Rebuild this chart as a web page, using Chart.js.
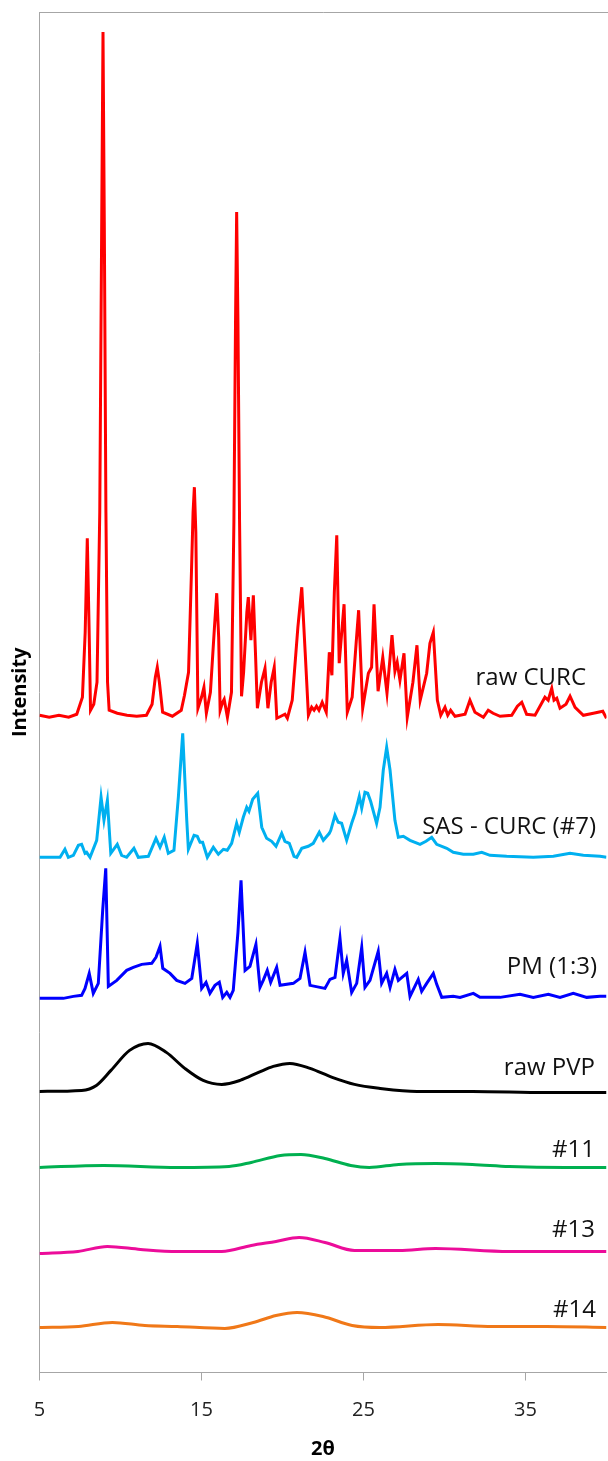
<!DOCTYPE html>
<html>
<head>
<meta charset="utf-8">
<script src="https://cdn.jsdelivr.net/npm/chart.js@4.4.0/dist/chart.umd.min.js"></script>
<style>
  html, body { margin: 0; padding: 0; background: #fff; }
</style>
</head>
<body>
<canvas id="xrd" width="608" height="1461"></canvas>
<script>
// 2θ ticks on the bottom axis
const X_TICKS = [5, 15, 25, 35];

const SERIES_NAMES = ['raw CURC', 'SAS - CURC (#7)', 'PM (1:3)', 'raw PVP', '#11', '#13', '#14'];

// [2θ, intensity] (patterns are stacked, offset included)
const rawCurc = [[5.0,657],[5.6,655],[6.2,657],[6.8,655],[7.3,658],[7.65,675],[7.82,740],[7.95,834],[8.06,745],[8.15,662],
  [8.35,668],[8.55,690],[8.72,860],[8.84,1150],[8.92,1340],[9.0,1150],[9.1,860],[9.2,690],[9.3,662],[9.8,659],
  [10.4,657],[11.0,656],[11.6,657],[11.95,668],[12.15,695],[12.27,705],[12.4,690],[12.6,660],[13.2,656],[13.75,662],
  [13.95,677],[14.2,700],[14.38,800],[14.48,860],[14.56,885],[14.65,840],[14.78,664],[15.0,675],[15.15,685],[15.3,659],
  [15.55,680],[15.8,745],[15.94,779],[16.06,735],[16.15,662],[16.3,670],[16.4,673],[16.6,655],[16.85,680],[17.0,850],
  [17.1,1050],[17.17,1160],[17.25,1050],[17.35,850],[17.47,676],[17.6,700],[17.8,760],[17.89,775],[18.05,732],[18.2,777],
  [18.33,720],[18.45,664],[18.7,690],[18.92,704],[19.1,664],[19.3,690],[19.49,705],[19.65,654],[19.9,656],[20.15,658],
  [20.3,654],[20.6,672],[20.95,745],[21.19,785],[21.4,720],[21.6,657],[21.8,665],[21.95,662],[22.1,666],[22.25,662],
  [22.45,670],[22.7,660],[22.89,720],[23.05,697],[23.2,780],[23.35,837],[23.5,709],[23.8,768],[24.0,660],[24.3,675],
  [24.55,730],[24.7,762],[24.95,664],[25.3,699],[25.5,705],[25.65,768],[25.9,681],[26.19,715],[26.45,679],[26.76,737],
  [26.94,701],[27.08,710],[27.25,692],[27.5,719],[27.7,655],[28.05,690],[28.3,727],[28.5,672],[28.9,699],[29.1,729],
  [29.31,740],[29.56,672],[29.77,657],[30.03,665],[30.2,657],[30.38,662],[30.65,656],[31.27,658],[31.57,672],[31.88,660],
  [32.4,655],[32.7,662],[33.0,659],[33.43,656],[34.15,657],[34.5,666],[34.77,670],[35.07,658],[35.59,657],[36.2,675],
  [36.4,672],[36.62,684],[36.76,672],[36.93,674],[37.13,664],[37.5,668],[37.75,676],[38.06,665],[38.57,657],[39.19,659],
  [39.77,661],[40.0,654]];

const sasCurc = [[5.0,515],[6.27,515],[6.57,523],[6.78,515],[7.09,517],[7.40,527],[7.60,528],[7.81,519],[7.91,520],[8.12,515],
  [8.53,532],[8.80,575],[8.98,552],[9.19,572],[9.40,519],[9.80,528],[10.07,517],[10.38,515],[10.83,524],[11.10,515],
  [11.72,516],[12.19,534],[12.44,525],[12.70,535],[12.95,519],[13.30,522],[13.57,575],[13.84,639],[14.09,552],[14.19,523],
  [14.54,537],[14.74,536],[14.91,530],[15.07,530],[15.36,515],[15.73,525],[16.04,518],[16.35,523],[16.59,522],[16.86,529],
  [17.17,549],[17.33,540],[17.58,555],[17.79,565],[17.93,561],[18.16,573],[18.47,579],[18.72,545],[19.02,534],[19.33,531],
  [19.60,526],[19.95,539],[20.15,531],[20.42,529],[20.71,516],[20.88,515],[21.19,524],[21.59,526],[21.90,529],[22.27,540],
  [22.52,532],[22.89,539],[22.98,542],[23.24,557],[23.44,550],[23.65,549],[23.96,532],[24.27,549],[24.48,559],[24.74,576],
  [24.89,564],[25.09,580],[25.26,579],[25.44,571],[25.81,549],[26.02,565],[26.22,602],[26.43,625],[26.64,602],[26.94,552],
  [27.15,535],[27.46,536],[27.87,532],[28.49,528],[28.86,531],[29.21,535],[29.52,528],[30.14,524],[30.54,520],[31.16,518],
  [31.78,518],[32.30,520],[32.81,517],[33.84,516],[35.48,515],[36.72,516],[37.75,519],[38.57,517],[39.60,516],[40.0,515]];

const pm13 = [[5.0,374],[6.47,374],[7.09,376],[7.60,377],[7.81,384],[8.07,399],[8.32,379],[8.63,389],[8.90,462],[9.09,504],
  [9.25,386],[9.77,392],[10.38,402],[10.79,405],[11.31,408],[11.93,409],[12.19,415],[12.44,426],[12.61,404],[13.06,399],
  [13.47,392],[13.98,389],[14.40,394],[14.74,429],[15.01,384],[15.28,390],[15.52,379],[15.83,387],[16.10,390],[16.31,375],
  [16.56,380],[16.76,375],[16.96,382],[17.25,440],[17.44,492],[17.69,402],[17.99,406],[18.36,428],[18.61,385],[18.81,392],
  [19.06,402],[19.27,390],[19.64,405],[19.85,387],[20.67,389],[21.08,394],[21.39,420],[21.70,387],[22.62,384],[22.93,393],
  [23.24,395],[23.55,434],[23.75,399],[23.96,412],[24.27,380],[24.58,389],[24.89,425],[25.09,385],[25.40,392],[25.91,421],
  [26.12,389],[26.43,399],[26.64,385],[26.94,403],[27.15,392],[27.67,399],[27.87,376],[28.38,393],[28.59,381],[28.90,389],
  [29.31,399],[29.52,388],[29.83,375],[30.54,376],[30.96,375],[31.78,379],[32.19,375],[33.43,375],[34.66,378],[35.48,375],
  [36.41,378],[37.13,375],[37.95,379],[38.78,375],[39.60,376],[40.0,376]];

const rawPvp = [[5.0,281],[7.6,282],[8.51,287],[9.41,302],[10.56,322],[11.70,329],[12.83,320],[13.97,304],[15.10,292],[16.25,288],
  [17.38,292],[18.52,300],[19.43,306],[20.46,309],[21.70,304],[23.07,295],[24.44,288],[26.03,284],[28.30,281],[31.72,281],
  [36.27,280],[40.0,280]];

const s11 = [[5.0,205],[8.96,207],[13.51,205],[16.70,206],[18.07,210],[19.88,217],[21.14,218],[22.62,214],[24.21,207],[25.35,205],
  [27.17,208],[29.44,209],[31.72,208],[34.0,206],[37.41,205],[40.0,205]];

const s13 = [[5.0,119],[7.37,121],[9.19,126],[11.24,123],[13.51,121],[16.25,121],[18.07,127],[19.6,131],[21.02,135],[22.62,130],
  [24.44,122],[27.2,122],[29.44,124],[34.0,121],[37.5,121],[40.0,121]];

const s14 = [[5.0,45],[7.4,46],[9.5,50],[11.5,47],[13.5,46],[16.44,44],[18.2,50],[19.6,57],[20.9,60],[22.5,56],
  [24.3,47],[26.0,45],[29.6,48],[33.0,46],[36.3,46],[40.0,45]];

const SERIES = [rawCurc, sasCurc, pm13, rawPvp, s11, s13, s14];
const COLORS = ['#ff0000', '#00b0f0', '#0000ff', '#000000', '#00b050', '#ec0c9a', '#f07818'];
const SMOOTH = [false, false, false, true, true, true, true];

// label spots: right end x, middle y (px)
const LABEL_SPOTS = [[586, 678], [596, 827], [597, 967], [595, 1068], [595, 1150], [595, 1230], [596, 1310]];

const etiquetas = {
    id: 'etiquetas',
    afterDatasetsDraw(chart) {
        const ctx = chart.ctx;
        ctx.save();
        ctx.font = '24px "Open Sans"';
        ctx.fillStyle = '#111';
        ctx.textAlign = 'right';
        ctx.textBaseline = 'middle';
        SERIES_NAMES.forEach((nome, i) => {
            ctx.fillText(nome, LABEL_SPOTS[i][0], LABEL_SPOTS[i][1]);
        });
        ctx.restore();
    }
};

// borda superior da área do gráfico
const bordaTopo = {
    id: 'bordaTopo',
    beforeDatasetsDraw(chart) {
        const { ctx, chartArea } = chart;
        ctx.save();
        ctx.strokeStyle = '#a6a6a6';
        ctx.lineWidth = 1;
        ctx.beginPath();
        ctx.moveTo(chartArea.left, chartArea.top + 0.5);
        ctx.lineTo(chart.width, chartArea.top + 0.5);
        ctx.stroke();
        ctx.restore();
    }
};

const datasets = SERIES.map((serie, i) => ({
    label: SERIES_NAMES[i],
    data: serie.map(p => ({ x: p[0], y: p[1] })),
    borderColor: COLORS[i],
    borderWidth: 3,
    pointRadius: 0,
    fill: false,
    tension: SMOOTH[i] ? 0.4 : 0,
    cubicInterpolationMode: SMOOTH[i] ? 'monotone' : 'default'
}));

new Chart(document.getElementById('xrd'), {
    type: 'line',
    data: { datasets },
    options: {
        responsive: false,
        animation: false,
        layout: { padding: { top: 12, right: 1.5, left: 0, bottom: 0 } },
        plugins: { legend: { display: false }, tooltip: { enabled: false } },
        scales: {
            x: {
                type: 'linear',
                min: 5,
                max: 40,
                afterBuildTicks: s => { s.ticks = X_TICKS.map(v => ({ value: v })); },
                afterFit: s => { s.height = 88.5; },
                grid: { drawOnChartArea: false, drawTicks: true, tickLength: 8, color: '#a6a6a6' },
                border: { color: '#a6a6a6', width: 1 },
                ticks: { font: { family: 'Open Sans', size: 20 }, color: '#222', padding: 18, maxRotation: 0 },
                title: {
                    display: true, text: '2θ', color: '#000',
                    font: { family: 'Open Sans', size: 20, weight: 'bold' },
                    padding: { top: 0, bottom: 0 }
                }
            },
            y: {
                min: 0,
                max: 1360,
                afterFit: s => { s.width = 39.5; },
                ticks: { display: false },
                grid: { display: false },
                border: { color: '#a6a6a6', width: 1 },
                title: {
                    display: true, text: 'Intensity', color: '#000',
                    font: { family: 'Open Sans', size: 20, weight: 'bold' },
                    padding: { top: 8, bottom: 0 }
                }
            }
        }
    },
    plugins: [bordaTopo, etiquetas]
});
</script>
</body>
</html>
